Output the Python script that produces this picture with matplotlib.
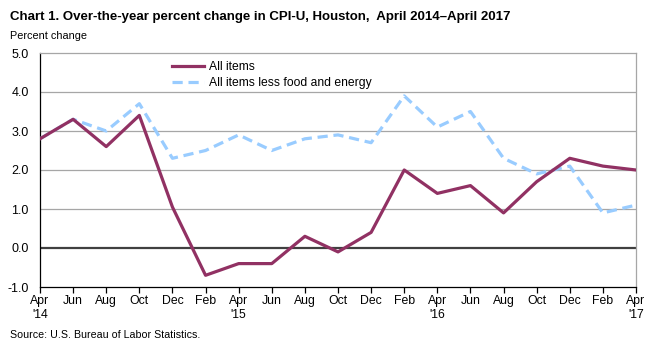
import matplotlib
matplotlib.use("Agg")
import matplotlib.pyplot as plt

months = ["Apr\n'14", "Jun", "Aug", "Oct", "Dec", "Feb", "Apr\n'15", "Jun", "Aug", "Oct",
          "Dec", "Feb", "Apr\n'16", "Jun", "Aug", "Oct", "Dec", "Feb", "Apr\n'17"]
all_items = [2.8, 3.3, 2.6, 3.4, 1.05, -0.7, -0.4, -0.4, 0.3, -0.1,
             0.4, 2.0, 1.4, 1.6, 0.9, 1.7, 2.3, 2.1, 2.0]
core = [2.8, 3.3, 3.0, 3.7, 2.3, 2.5, 2.9, 2.5, 2.8, 2.9,
        2.7, 3.9, 3.1, 3.5, 2.3, 1.9, 2.1, 0.9, 1.1]
yticks = [-1.0, 0.0, 1.0, 2.0, 3.0, 4.0, 5.0]

plt.rcParams['font.family'] = ['Liberation Sans', 'DejaVu Sans']

fig = plt.figure(figsize=(6.54, 3.47), dpi=100)
ax = fig.add_axes([40/654, 1-287/347, 596/654, 234/347])

x = list(range(len(months)))
for y in yticks[2:-1]:
    ax.axhline(y, color='#a6a6a6', lw=0.9, zorder=1)
ax.axhline(0, color='#404040', lw=1.6, zorder=2)

ax.plot(x, all_items, color='#913163', lw=2.3, label='All items', zorder=4)
ax.plot(x, core, color='#99ccff', lw=2.3, dashes=(3.2, 1.8), label='All items less food and energy', zorder=3)

ax.set_xlim(0, len(months)-1)
ax.set_ylim(-1, 5)
ax.set_yticks(yticks)
ax.set_yticklabels([f"{v:.1f}" for v in yticks], fontsize=9)
ax.set_xticks(x)
ax.set_xticklabels(months, fontsize=8.8, linespacing=1.15)
ax.tick_params(axis='y', length=0, pad=8)
ax.tick_params(axis='x', length=4, width=0.9, color='black', pad=2, direction='out')
for s in ['top', 'right']:
    ax.spines[s].set_color('#a6a6a6')
    ax.spines[s].set_linewidth(0.9)
for s in ['left', 'bottom']:
    ax.spines[s].set_color('black')
    ax.spines[s].set_linewidth(0.9)

leg = ax.legend(loc='upper left', bbox_to_anchor=(0.21, 0.995), frameon=False, fontsize=8.7,
                handlelength=2.6, handletextpad=0.4, labelspacing=0.3, borderaxespad=0.2)

fig.text(10/654, 1-17/347, "Chart 1. Over-the-year percent change in CPI-U, Houston,  April 2014\u2013April 2017",
         fontsize=9.5, fontweight='bold', va='center', ha='left')
fig.text(10/654, 1-36/347, "Percent change", fontsize=7.8, va='center', ha='left')
fig.text(10/654, 1-335/347, "Source: U.S. Bureau of Labor Statistics.", fontsize=7.7, va='center', ha='left')

fig.savefig("out.png", dpi=100)
